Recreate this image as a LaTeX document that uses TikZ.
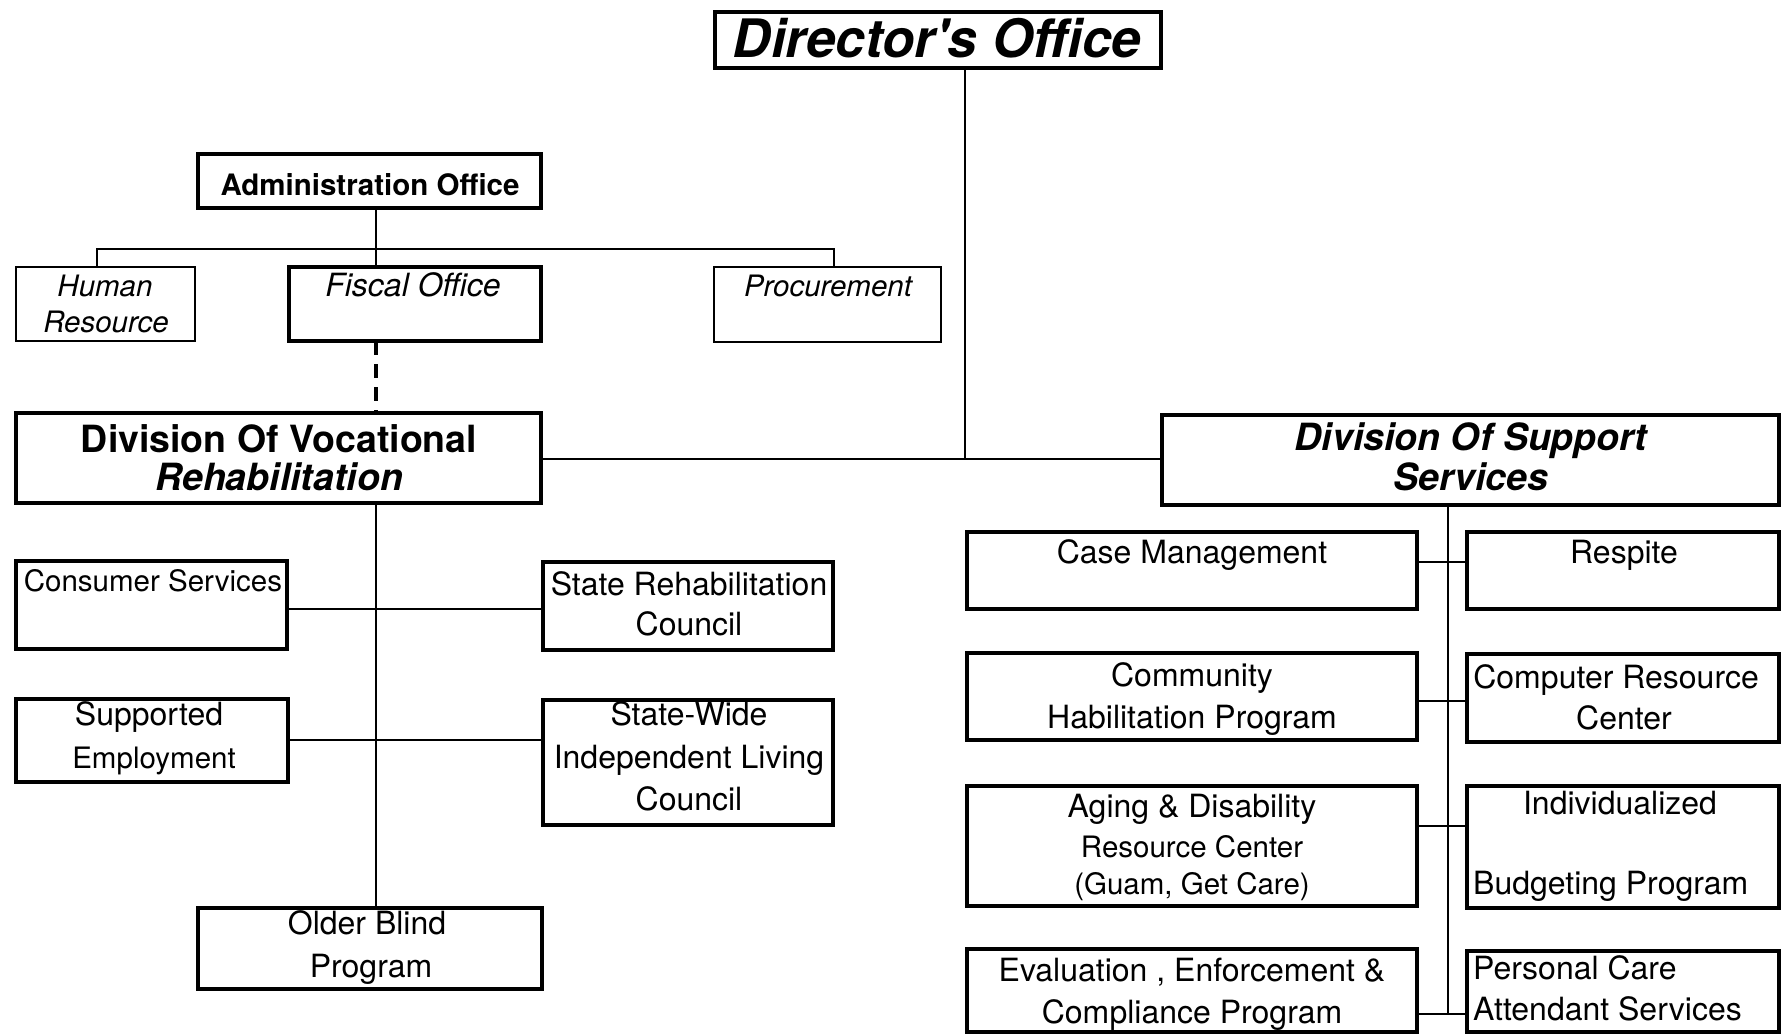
\documentclass[tikz,border=0pt]{standalone}
\usepackage{fontspec}
\setmainfont{TeX Gyre Heros}
\newcommand{\orgbox}[6]{%
  \node[#1, minimum width={(#5-#3)*1pt}, minimum height={(#6-#4)*1pt}] (#2) at ({(#3+#5)/2},{(#4+#6)/2}) {};}
\tikzset{
  thickbox/.style={draw, line width=4.5pt, inner sep=0pt, outer sep=0pt},
  thinbox/.style={draw, line width=2pt, inner sep=0pt, outer sep=0pt},
  conn/.style={line width=2.5pt},
  dashline/.style={line width=4pt, dash pattern=on 14pt off 9pt},
  txt/.style={inner sep=0pt, anchor=base, font=\fontsize{32}{38}\selectfont},
  txts/.style={inner sep=0pt, anchor=base, font=\fontsize{29.5}{36}\selectfont},
  txtl/.style={txt, anchor=base west},
  itx/.style={inner sep=0pt, anchor=base, font=\fontsize{29.5}{36}\selectfont\itshape},
  btx/.style={inner sep=0pt, anchor=base, font=\fontsize{37.5}{44}\selectfont\bfseries},
  bitx/.style={inner sep=0pt, anchor=base, font=\fontsize{37.5}{44}\selectfont\bfseries\itshape},
}
\begin{document}
\begin{tikzpicture}[x=1pt,y=-1pt]
\useasboundingbox[fill=white] (0,0) rectangle (1791,1035);
% boxes
\orgbox{thickbox}{dir}{715}{12}{1161}{68}
\orgbox{thickbox}{admin}{198}{154}{541}{208}
\orgbox{thinbox}{hr}{16}{267}{195}{341}
\orgbox{thickbox}{fiscal}{289}{267}{541}{341}
\orgbox{thinbox}{proc}{714}{267}{941}{342}
\orgbox{thickbox}{dvr}{16}{413}{541}{503}
\orgbox{thickbox}{dss}{1162}{415}{1779}{505}
\orgbox{thickbox}{cons}{16}{561}{287}{649}
\orgbox{thickbox}{src}{543}{562}{833}{650}
\orgbox{thickbox}{supp}{16}{699}{288}{782}
\orgbox{thickbox}{swil}{543}{700}{833}{825}
\orgbox{thickbox}{older}{198}{908}{542}{989}
\orgbox{thickbox}{case}{967}{532}{1417}{609}
\orgbox{thickbox}{resp}{1467}{532}{1779}{609}
\orgbox{thickbox}{comm}{967}{653}{1417}{740}
\orgbox{thickbox}{comp}{1467}{654}{1779}{742}
\orgbox{thickbox}{aging}{967}{786}{1417}{906}
\orgbox{thickbox}{indiv}{1467}{786}{1779}{908}
\orgbox{thickbox}{eval}{967}{949}{1417}{1032}
\orgbox{thickbox}{pers}{1467}{951}{1779}{1032}
% junction coordinates
\coordinate (jdir) at (965,459);
\coordinate (jadm) at (376,249);
\coordinate (bl) at (97,249);
\coordinate (br) at (834,249);
\coordinate (r1) at (376,609);
\coordinate (r2) at (376,740);
\coordinate (jdss) at (1448,1014);
\coordinate (q1) at (1448,562);
\coordinate (q2) at (1448,701);
\coordinate (q3) at (1448,826);
% connectors
\draw[conn] (dir.south -| jdir) -- (jdir);
\draw[conn] (dvr.east |- jdir) -- (dss.west |- jdir);
\draw[conn] (admin.south -| jadm) -- (jadm);
\draw[conn] (hr.north -| bl) -- (bl) -- (br) -- (proc.north -| br);
\draw[conn] (jadm) -- (fiscal.north -| jadm);
\draw[dashline] (fiscal.south -| jadm) -- (dvr.north -| jadm);
\draw[conn] (dvr.south -| jadm) -- (older.north -| jadm);
\draw[conn] (cons.east |- r1) -- (src.west |- r1);
\draw[conn] (supp.east |- r2) -- (swil.west |- r2);
\draw[conn] (dss.south -| jdss) -- (jdss);
\draw[conn] (case.east |- q1) -- (resp.west |- q1);
\draw[conn] (comm.east |- q2) -- (comp.west |- q2);
\draw[conn] (aging.east |- q3) -- (indiv.west |- q3);
\draw[conn] (eval.east |- jdss) -- (pers.west |- jdss);
% texts
\node[inner sep=0pt, anchor=base, font=\fontsize{53}{60}\selectfont\bfseries\itshape] (t_dir) at (937,58) {Director\textquotesingle s Office};
\node[inner sep=0pt, anchor=base, font=\fontsize{29.5}{36}\selectfont\bfseries] (t_adm) at (370,196) {Administration Office};
\node[itx] (t_hr1) at (105,296) {Human};
\node[itx] (t_hr2) at (106,332) {Resource};
\node[itx, font=\fontsize{32}{38}\selectfont\itshape] (t_fis) at (413,296) {Fiscal Office};
\node[itx] (t_proc) at (828,296) {Procurement};
\node[btx] (t_dvr1) at (279,452) {Division Of Vocational};
\node[bitx] (t_dvr2) at (279,490) {Rehabilitation};
\node[bitx] (t_dss1) at (1471,450) {Division Of Support};
\node[bitx] (t_dss2) at (1471,490) {Services};
\node[txts] (t_cons) at (153,591) {Consumer Services};
\node[txt] (t_src1) at (689,595) {State Rehabilitation};
\node[txt] (t_src2) at (689,635) {Council};
\node[txt] (t_sup1) at (149,725) {Supported};
\node[txts] (t_sup2) at (154,768) {Employment};
\node[txt] (t_sw1) at (689,725) {State-Wide};
\node[txt] (t_sw2) at (689,768) {Independent Living};
\node[txt] (t_sw3) at (689,810) {Council};
\node[txt] (t_old1) at (367,934) {Older Blind};
\node[txt] (t_old2) at (371,977) {Program};
\node[txt] (t_case) at (1192,563) {Case Management};
\node[txt] (t_resp) at (1624,563) {Respite};
\node[txt] (t_com1) at (1192,686) {Community};
\node[txt] (t_com2) at (1192,728) {Habilitation Program};
\node[txt] (t_cmp1) at (1616,688) {Computer Resource};
\node[txt] (t_cmp2) at (1624,729) {Center};
\node[txt] (t_ag1) at (1192,817) {Aging \& Disability};
\node[txts] (t_ag2) at (1192,857) {Resource Center};
\node[txts] (t_ag3) at (1192,894) {(Guam, Get Care)};
\node[txt] (t_ind1) at (1620,814) {Individualized};
\node[txtl] (t_ind2) at (1473,894) {Budgeting Program};
\node[txt] (t_ev1) at (1192,981) {Evaluation , Enforcement \&};
\node[txt] (t_ev2) at (1192,1023) {Compliance Program};
\node[txtl] (t_pc1) at (1473,979) {Personal Care};
\node[txtl] (t_pc2) at (1473,1020) {Attendant Services};
\end{tikzpicture}
\end{document}
